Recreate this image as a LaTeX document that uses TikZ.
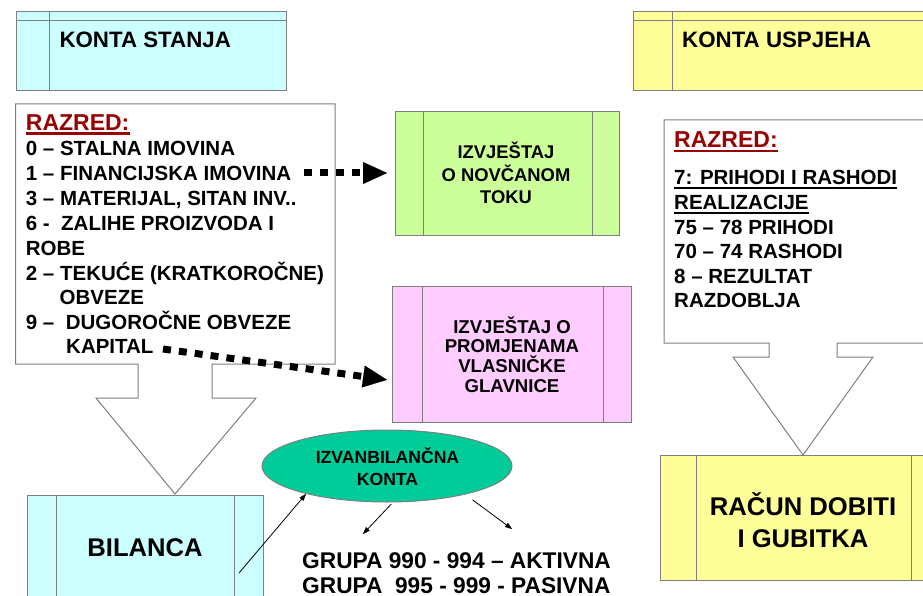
\documentclass[tikz,border=0pt]{standalone}
\usepackage{fontspec}
\setmainfont{Liberation Sans}
\usetikzlibrary{arrows.meta,shapes.geometric}
\definecolor{cyanbox}{HTML}{CCFFFF}
\definecolor{yellowbox}{HTML}{FFFF99}
\definecolor{greenbox}{HTML}{CCFF99}
\definecolor{pinkbox}{HTML}{FFCCFF}
\definecolor{ellfill}{HTML}{00CC99}
\definecolor{edge}{HTML}{7F7F7F}
\definecolor{razred}{HTML}{990000}
\begin{document}
\begin{tikzpicture}[x=1pt,y=-1pt,
  boxst/.style={draw=edge, line width=1pt, rectangle, inner sep=0pt, anchor=north west},
  inl/.style={draw=edge, line width=1pt},
  lst/.style={inner sep=0pt, anchor=base west, font=\bfseries\fontsize{20.5}{24}\selectfont},
  rz/.style={inner sep=0pt, anchor=base west, text=razred, font=\bfseries\fontsize{23}{26}\selectfont},
  ctrg/.style={inner sep=0pt, anchor=base, font=\bfseries\fontsize{18.4}{22}\selectfont},
  ctrp/.style={inner sep=0pt, anchor=base, font=\bfseries\fontsize{18.6}{22}\selectfont},
  ctre/.style={inner sep=0pt, anchor=base, font=\bfseries\fontsize{17.6}{21}\selectfont},
  big/.style={inner sep=0pt, anchor=base, font=\bfseries\fontsize{25.6}{30}\selectfont},
  head/.style={inner sep=0pt, anchor=base west, font=\bfseries\fontsize{22.3}{26}\selectfont},
  grp/.style={inner sep=0pt, anchor=base west, font=\bfseries\fontsize{22.7}{26}\selectfont},
  dotarr/.style={line width=7pt, dash pattern=on 8pt off 8pt,
    -{Triangle[length=24pt,width=22pt,line width=0.1pt]}},
  thinarr/.style={line width=0.8pt, -{Triangle[length=7pt,width=5pt,line width=0.1pt]}}
]
\useasboundingbox (0,0) rectangle (923,596);
\clip (0,0) rectangle (923,596);

% ---- KONTA STANJA
\node[boxst, fill=cyanbox, minimum width=270.3pt, minimum height=79pt] (ks) at (15.7,11) {};
\draw[inl] ([yshift=-10pt]ks.north west) -- ([yshift=-10pt]ks.north east);
\draw[inl] ([xshift=33.3pt]ks.north west) -- ([xshift=33.3pt]ks.south west);
\node[head] (kst) at (59.3,48) {KONTA STANJA};

% ---- KONTA USPJEHA
\node[boxst, fill=yellowbox, minimum width=327pt, minimum height=79pt] (ku) at (633,11) {};
\draw[inl] ([yshift=-10pt]ku.north west) -- ([yshift=-10pt]ku.north east);
\draw[inl] ([xshift=39pt]ku.north west) -- ([xshift=39pt]ku.south west);
\node[head] (kut) at (682,48) {KONTA USPJEHA};

% ---- left callout
\draw[edge, line width=1pt, fill=white] (15.7,104) -- (335,104) -- (335,364) -- (212,364)
  -- (212,398) -- (256,398) -- (175,494) -- (96,398) -- (138,398) -- (138,364)
  -- (15.7,364) -- cycle;
\node[rz] (lr) at (25.7,130.7) {RAZRED:};
\draw[razred, line width=2.4pt] ([yshift=-2.8pt]lr.base west) -- ([yshift=-2.8pt]lr.base east);
\node[lst] (l0) at (25.7,156) {0 – STALNA IMOVINA};
\node[lst] (l1) at (25.7,181) {1 – FINANCIJSKA IMOVINA};
\node[lst] (l3) at (25.7,205.7) {3 – MATERIJAL, SITAN INV..};
\node[lst] (l6) at (25.7,230.7) {6 -\ \ ZALIHE PROIZVODA I};
\node[lst] (l6b) at (25.7,255) {ROBE};
\node[lst] (l2) at (25.7,280) {2 – TEKUĆE (KRATKOROČNE)};
\node[lst] (l2b) at (59.5,304) {OBVEZE};
\node[lst] (l9) at (25.7,329) {9 –\ \ DUGOROČNE OBVEZE};
\node[lst] (l9b) at (66,353) {KAPITAL};

% ---- right callout
\draw[edge, line width=1pt, fill=white] (664,120) -- (945,120) -- (945,343) -- (837,343)
  -- (837,357) -- (873,357) -- (803,455) -- (733,357) -- (769,357) -- (769,343)
  -- (664,343) -- cycle;
\node[rz] (rr) at (674,148) {RAZRED:};
\draw[razred, line width=2.4pt] ([yshift=-2.8pt]rr.base west) -- ([yshift=-2.8pt]rr.base east);
\node[lst] (r7) at (674,185) {7: PRIHODI I RASHODI};
\draw[line width=2pt] ([yshift=-3pt]r7.base west) -- ([yshift=-3pt]r7.base east);
\node[lst] (r7b) at (674,210) {REALIZACIJE};
\draw[line width=2pt] ([yshift=-3pt]r7b.base west) -- ([yshift=-3pt]r7b.base east);
\node[lst] (r75) at (674,234) {75 – 78 PRIHODI};
\node[lst] (r70) at (674,258.5) {70 – 74 RASHODI};
\node[lst] (r8) at (674,283) {8 – REZULTAT};
\node[lst] (r8b) at (674,307) {RAZDOBLJA};

% ---- green box
\node[boxst, fill=greenbox, minimum width=224pt, minimum height=124pt] (gr) at (395,111) {};
\draw[inl] ([xshift=28pt]gr.north west) -- ([xshift=28pt]gr.south west);
\draw[inl] ([xshift=-28pt]gr.north east) -- ([xshift=-28pt]gr.south east);
\node[ctrg] (g1) at (506,159) {IZVJEŠTAJ};
\node[ctrg] (g2) at (506,181.5) {O NOVČANOM};
\node[ctrg] (g3) at (506,203.5) {TOKU};

% ---- pink box
\node[boxst, fill=pinkbox, minimum width=239pt, minimum height=136pt] (pk) at (392,286) {};
\draw[inl] ([xshift=30pt]pk.north west) -- ([xshift=30pt]pk.south west);
\draw[inl] ([xshift=-29pt]pk.north east) -- ([xshift=-29pt]pk.south east);
\node[ctrp] (p1) at (512,333.3) {IZVJEŠTAJ O};
\node[ctrp] (p2) at (512,352.5) {PROMJENAMA};
\node[ctrp] (p3) at (512,372) {VLASNIČKE};
\node[ctrp] (p4) at (512,392) {GLAVNICE};

% ---- BILANCA
\node[boxst, fill=cyanbox, minimum width=236pt, minimum height=106pt] (bil) at (27,495) {};
\draw[inl] ([xshift=29pt]bil.north west) -- ([xshift=29pt]bil.south west);
\draw[inl] ([xshift=-30pt]bil.north east) -- ([xshift=-30pt]bil.south east);
\node[big] (bilt) at (145,556) {BILANCA};

% ---- RACUN DOBITI
\node[boxst, fill=yellowbox, minimum width=286pt, minimum height=125pt] (rd) at (660,455) {};
\draw[inl] ([xshift=36pt]rd.north west) -- ([xshift=36pt]rd.south west);
\draw[inl] ([xshift=-36pt]rd.north east) -- ([xshift=-36pt]rd.south east);
\node[big] (rd1) at (803,515) {RAČUN DOBITI};
\node[big] (rd2) at (803,547) {I GUBITKA};

% ---- ellipse
\node[ellipse, draw=edge, line width=1pt, fill=ellfill, minimum width=250pt, minimum height=72pt, inner sep=0pt] (iz) at (387,466) {};
\node[ctre] (iz1) at (387.5,463) {IZVANBILANČNA};
\node[ctre] (iz2) at (387.5,485) {KONTA};

\node[grp] (gp1) at (302,568) {GRUPA 990 - 994 – AKTIVNA};
\node[grp] (gp2) at (302,593) {GRUPA\ \ 995 - 999 - PASIVNA};

% ---- connectors
\coordinate (d1s) at (304,173);
\draw[dotarr, shorten >=8pt] (d1s) -- (gr.west |- d1s);
\coordinate (d2s) at (163,349);
\coordinate (d2e) at (392,380.5);
\draw[dotarr, shorten >=5pt] (d2s) -- (d2e);
\coordinate (t1s) at (239,573);
\draw[thinarr] (t1s) -- (iz.199);
\coordinate (g1e) at (363,534);
\coordinate (g2e) at (512,529);
\draw[thinarr, shorten <=2pt] (iz.279) -- (g1e);
\draw[thinarr, shorten <=9pt] (iz.340) -- (g2e);
\end{tikzpicture}
\end{document}
